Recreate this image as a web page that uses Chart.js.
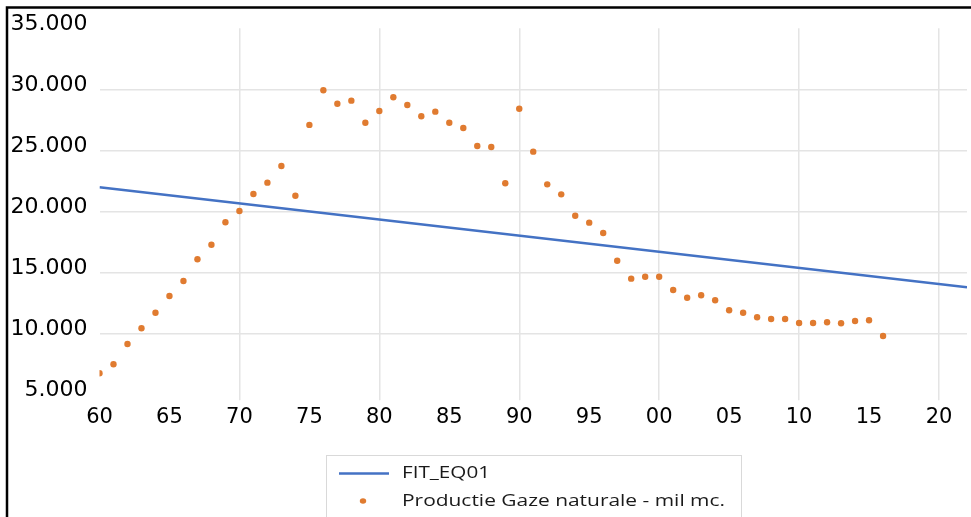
<!DOCTYPE html>
<html>
<head>
<meta charset="utf-8">
<script src="https://cdn.jsdelivr.net/npm/chart.js@4/dist/chart.umd.min.js"></script>
<style>
    html, body { margin: 0; padding: 0; background: #ffffff; }
    #wrap { width: 971px; height: 517px; }
</style>
</head>
<body>
<div id="wrap"><canvas id="myChart" width="971" height="517"></canvas></div>
<script>
// Years of the observed series
var years = [1960, 1961, 1962, 1963, 1964, 1965, 1966, 1967, 1968, 1969,
    1970, 1971, 1972, 1973, 1974, 1975, 1976, 1977, 1978, 1979,
    1980, 1981, 1982, 1983, 1984, 1985, 1986, 1987, 1988, 1989,
    1990, 1991, 1992, 1993, 1994, 1995, 1996, 1997, 1998, 1999,
    2000, 2001, 2002, 2003, 2004, 2005, 2006, 2007, 2008, 2009,
    2010, 2011, 2012, 2013, 2014, 2015, 2016];

// Productie Gaze naturale - mil mc.
var productie = [6720, 7460, 9120, 10410, 11690, 13060, 14290, 16070, 17260, 19100,
    20030, 21420, 22350, 23710, 21280, 27080, 29920, 28820, 29070, 27260,
    28220, 29350, 28710, 27790, 28170, 27260, 26830, 25350, 25270, 22300,
    28410, 24890, 22210, 21390, 19640, 19070, 18220, 15950, 14480, 14640,
    14640, 13550, 12920, 13120, 12710, 11890, 11690, 11310, 11170, 11170,
    10850, 10850, 10900, 10820, 11010, 11070, 9780];

// FIT_EQ01 trend line, end points
var fitYears = [1960, 2022];
var fitValues = [21970, 13770];

var xTicks = { min: 1960, max: 2022, step: 5 };
var yTicks = { min: 5000, max: 35000, step: 5000 };

var tickFont = { family: 'DejaVu Sans', size: 21 };

// draw text stretched to a given width (the legend text in the picture is wide)
function fillWide(ctx, text, x, y, width) {
    var w = ctx.measureText(text).width;
    ctx.save();
    ctx.translate(x, y);
    ctx.scale(width / w, 1);
    ctx.fillText(text, 0, 0);
    ctx.restore();
}

// Draws the outer frame and the boxed legend under the plot
var frameAndLegend = {
    id: 'frameAndLegend',
    afterDraw: function (chart) {
        var ctx = chart.ctx;
        ctx.save();
        ctx.strokeStyle = '#000000';
        ctx.lineWidth = 2.5;
        ctx.beginPath();
        ctx.moveTo(7, 517);
        ctx.lineTo(7, 7.5);
        ctx.lineTo(971, 7.5);
        ctx.stroke();

        // legend box
        ctx.strokeStyle = '#d9d9d9';
        ctx.lineWidth = 1;
        ctx.strokeRect(326.5, 455.5, 415, 80);

        var fit = chart.data.datasets[0];
        var prod = chart.data.datasets[1];
        ctx.strokeStyle = fit.borderColor;
        ctx.lineWidth = fit.borderWidth;
        ctx.beginPath();
        ctx.moveTo(339, 473.5);
        ctx.lineTo(389, 473.5);
        ctx.stroke();

        ctx.fillStyle = prod.backgroundColor;
        ctx.beginPath();
        ctx.ellipse(363, 501, 3.2, 2.8, 0, 0, Math.PI * 2);
        ctx.fill();

        ctx.fillStyle = '#1a1a1a';
        ctx.font = '17px "Open Sans"';
        ctx.textBaseline = 'middle';
        ctx.textAlign = 'left';
        fillWide(ctx, fit.label, 402, 473, 88);
        fillWide(ctx, prod.label, 402, 501, 323);
        ctx.restore();
    }
};

function createChart() {
    var fitPoints = fitYears.map(function (y, i) { return { x: y, y: fitValues[i] }; });
    var prodPoints = years.map(function (y, i) { return { x: y, y: productie[i] }; });

    var ctx = document.getElementById('myChart').getContext('2d');
    return new Chart(ctx, {
        type: 'scatter',
        data: {
            datasets: [{
                label: 'FIT_EQ01',
                type: 'line',
                data: fitPoints,
                borderColor: '#4472c4',
                backgroundColor: '#4472c4',
                borderWidth: 2.5,
                pointRadius: 0,
                fill: false
            }, {
                label: 'Productie Gaze naturale - mil mc.',
                data: prodPoints,
                backgroundColor: '#e07b30',
                borderColor: '#e07b30',
                borderWidth: 0,
                pointRadius: 3.2
            }]
        },
        options: {
            responsive: false,
            animation: false,
            layout: { padding: { top: 28.3, left: 0, right: 4, bottom: 0 } },
            plugins: {
                legend: { display: false },
                tooltip: { enabled: false }
            },
            scales: {
                x: {
                    type: 'linear',
                    min: xTicks.min,
                    max: xTicks.max,
                    border: { display: false },
                    grid: {
                        color: function (c) {
                            var v = c.tick ? c.tick.value : null;
                            return (v !== null && v % 10 === 0 && v !== xTicks.min) ? '#e4e4e4' : 'rgba(0,0,0,0)';
                        },
                        lineWidth: 1.5,
                        tickLength: 6
                    },
                    ticks: {
                        stepSize: xTicks.step,
                        includeBounds: false,
                        maxRotation: 0,
                        autoSkip: false,
                        padding: 5,
                        color: '#000000',
                        font: tickFont,
                        callback: function (value) {
                            return String(value % 100).padStart(2, '0');
                        }
                    },
                    afterFit: function (scale) { scale.height = 122.7; }
                },
                y: {
                    min: yTicks.min,
                    max: yTicks.max,
                    border: { display: false },
                    grid: {
                        color: function (c) {
                            var v = c.tick ? c.tick.value : null;
                            return (v === yTicks.min || v === yTicks.max) ? 'rgba(0,0,0,0)' : '#e4e4e4';
                        },
                        lineWidth: 1.5,
                        drawTicks: false
                    },
                    ticks: {
                        stepSize: yTicks.step,
                        padding: 12,
                        labelOffset: -4,
                        color: '#000000',
                        font: { family: 'DejaVu Sans', size: 22 },
                        callback: function (value) {
                            return value.toLocaleString('de-DE');
                        }
                    },
                    afterFit: function (scale) { scale.width = 99.5; }
                }
            }
        },
        plugins: [frameAndLegend]
    });
}

var myChart = createChart();
</script>
</body>
</html>
